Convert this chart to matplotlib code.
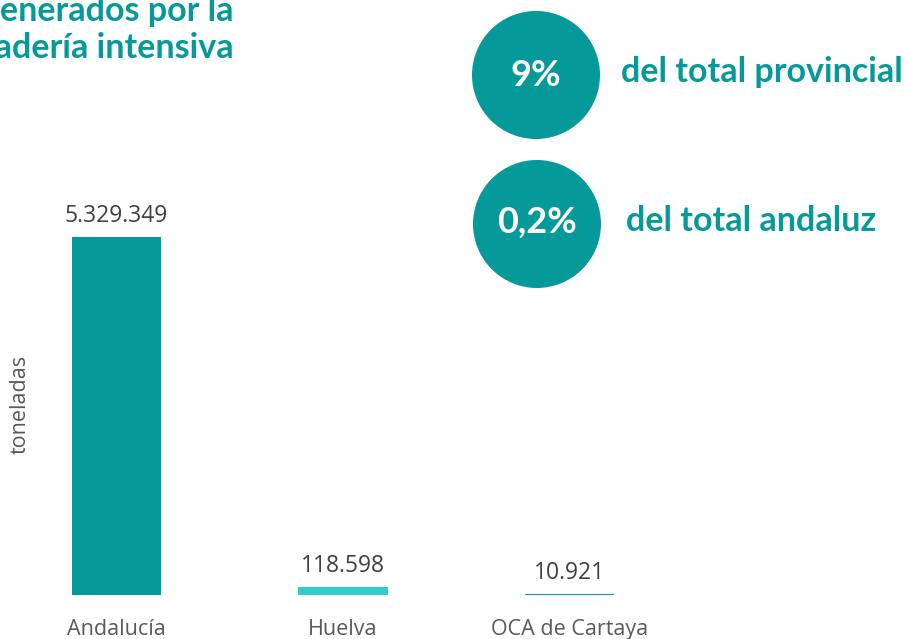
import matplotlib.pyplot as plt
from matplotlib.patches import Circle

# toneladas de estiércol por ámbito
categorias = ['Andalucía', 'Huelva', 'OCA de Cartaya']
toneladas = [5329349, 118598, 10921]
etiquetas = ['5.329.349', '118.598', '10.921']
colores = ['#05999a', '#33cccc', '#05999a']

porcentajes = ['9%', '0,2%']
textos_pct = ['del total provincial', 'del total andaluz']

teal = '#05999a'
gris = '#404040'

W, H = 907, 639
fig = plt.figure(figsize=(W / 100, H / 100), dpi=100)

# eje de barras: base en y=595 px, barra mayor con tope en y=237 px
base_px, top_px = 595, 200
ax = fig.add_axes([3.25 / W, (H - base_px) / H, 679.5 / W, (base_px - top_px) / H])
ymax = toneladas[0] * (base_px - top_px) / (base_px - 237)
x = range(len(categorias))
ax.bar(x, toneladas, width=0.393, color=colores)
ax.set_xlim(-0.5, 2.5)
ax.set_ylim(0, ymax)
for s in ax.spines.values():
    s.set_visible(False)
ax.set_xticks(list(x))
ax.set_xticklabels(categorias, fontsize=15.5, color='#595959', family='Open Sans')
ax.tick_params(axis='x', length=0, pad=17.5)
ax.set_yticks([])

for xi, v, lab in zip(x, toneladas, etiquetas):
    ax.annotate(lab, (xi, v), xytext=(0, 11), textcoords='offset points',
                ha='center', va='baseline', fontsize=16.5, color=gris,
                family='Open Sans')

# capa superior en coordenadas de píxel
ov = fig.add_axes([0, 0, 1, 1], zorder=5)
ov.set_xlim(0, W)
ov.set_ylim(H, 0)
ov.axis('off')
ov.patch.set_alpha(0)

ov.text(20, 404, 'toneladas', rotation=90, ha='center', va='center',
        fontsize=15.5, color='#595959', family='Open Sans')

ov.text(234, 21, 'generados por la', ha='right', va='baseline',
        fontsize=24.5, fontweight='bold', color=teal, family='Lato')
ov.text(234, 58, 'ganadería intensiva', ha='right', va='baseline',
        fontsize=24.5, fontweight='bold', color=teal, family='Lato')

centros = [(536, 75), (537, 224)]
base_pct = [86, 233]
base_txt = [82, 231]
xs_texto = [621, 626]
for (cx, cy), pct, txt, tx, bp, bt in zip(centros, porcentajes, textos_pct,
                                          xs_texto, base_pct, base_txt):
    ov.add_patch(Circle((cx, cy), 64, color=teal, lw=0))
    ov.text(cx, bp, pct, ha='center', va='baseline', fontsize=26,
            fontweight='bold', color='white', family='Lato')
    ov.text(tx, bt, txt, ha='left', va='baseline', fontsize=24.5,
            fontweight='bold', color=teal, family='Lato')

fig.savefig('out.png', dpi=100)
